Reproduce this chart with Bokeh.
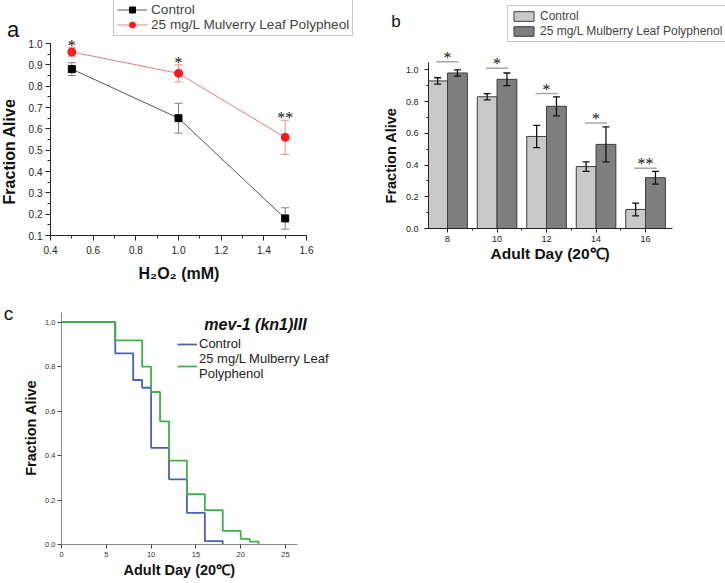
import numpy as np
from bokeh.plotting import figure
from bokeh.models import (ColumnDataSource, Whisker, TeeHead, Legend, LegendItem, Label, LabelSet,
                          SingleIntervalTicker, FixedTicker, PrintfTickFormatter, Range1d, Title)
from bokeh.layouts import column, row
from bokeh.embed import file_html
from bokeh.resources import INLINE

FONT = "Liberation Sans"

# ---------------- data: panel a ----------------
h2o2_mm = [0.5, 1.0, 1.5]
a_control = [0.88, 0.65, 0.18]
a_control_err = [0.03, 0.07, 0.05]
a_poly = [0.96, 0.86, 0.56]
a_poly_err = [0.02, 0.04, 0.08]
a_stars = ["*", "*", "**"]
a_series = ["Control", "25 mg/L Mulverry Leaf Polypheol"]

# ---------------- data: panel b ----------------
b_days = [8, 10, 12, 14, 16]
b_control = [0.93, 0.83, 0.58, 0.39, 0.12]
b_control_err = [0.02, 0.02, 0.07, 0.03, 0.04]
b_poly = [0.98, 0.94, 0.77, 0.53, 0.32]
b_poly_err = [0.02, 0.04, 0.06, 0.11, 0.04]
b_sig_y = [1.05, 1.01, 0.85, 0.665, 0.38]
b_stars = ["*", "*", "*", "*", "**"]
b_series = ["Control", "25 mg/L Mulberry Leaf Polyphenol"]

# ---------------- data: panel c ----------------
c_control_day = [0, 6, 8, 9, 10, 12, 14, 16, 18]
c_control_alive = [1.0, 0.86, 0.74, 0.705, 0.435, 0.293, 0.142, 0.015, 0.0]
c_poly_day = [0, 6, 9, 10, 11, 12, 14, 16, 18, 20, 21, 22]
c_poly_alive = [1.0, 0.918, 0.80, 0.686, 0.554, 0.377, 0.226, 0.154, 0.061, 0.025, 0.013, 0.0]
c_title = "mev-1 (kn1)III"
c_series = ["Control", "25 mg/L Mulberry Leaf\nPolyphenol"]

Y_LABEL = "Fraction Alive"
DAY_LABEL = "Adult Day (20\u2103)"
H2O2_LABEL = "H\u2082O\u2082 (mM)"


def style_axes(p, tick_size, axis_color="#222222", tick_color="#222222"):
    for ax in (p.xaxis[0], p.yaxis[0]):
        ax.axis_line_color = axis_color
        ax.major_tick_line_color = axis_color
        ax.minor_tick_line_color = axis_color
        ax.major_tick_in = 0
        ax.minor_tick_in = 0
        ax.major_label_text_font = FONT
        ax.major_label_text_font_size = tick_size
        ax.major_label_text_color = tick_color
    p.grid.visible = False
    p.outline_line_color = None
    p.background_fill_color = "white"
    p.border_fill_color = "white"


def x_title(p, text, size, offset, standoff, valign):
    """Bold x-axis title, placed under the tick labels and centred on the drawn axis."""
    p.add_layout(Title(text=text, align="left", offset=offset, standoff=standoff,
                       vertical_align=valign, text_font=FONT, text_font_size=size,
                       text_font_style="bold", text_color="#111111"), "below")


def side_figure(width, height, x0, x1, y_bottom, y_top, bottom_border):
    """A blank strip (no axes) that carries the panel letter and the y title."""
    s = figure(width=width, height=height, x_range=Range1d(x0, x1), y_range=Range1d(y_bottom, y_top),
               x_axis_type=None, y_axis_type=None, output_backend="svg", toolbar_location=None,
               min_border_left=0, min_border_right=0, min_border_top=0,
               min_border_bottom=bottom_border)
    s.outline_line_color = None
    s.grid.visible = False
    return s


def add_text(p, x, y, text, size, style="normal", angle=0.0):
    p.add_layout(Label(x=x, y=y, text=text, angle=angle, text_align="center",
                       text_baseline="middle", text_font=FONT, text_font_size=size,
                       text_font_style=style, text_color="#111111"))


# ================= panel a =================
la = side_figure(20, 300, 0, 20, 235, 0, 65)
add_text(la, 12.5, 29, "a", "22px")
add_text(la, 8.5, 151, Y_LABEL, "16px", "bold", np.pi / 2)

pa = figure(width=340, height=300, x_range=(0.4, 1.853), y_range=(0.1, 1.2016),
            output_backend="svg", toolbar_location=None,
            min_border_left=30, min_border_right=0, min_border_top=0, min_border_bottom=65)
style_axes(pa, "10px")
pa.xaxis.bounds = (0.4, 1.6)
pa.yaxis.bounds = (0.1, 1.0)
pa.xaxis.ticker = SingleIntervalTicker(interval=0.2, num_minor_ticks=2)
pa.yaxis.ticker = SingleIntervalTicker(interval=0.1, num_minor_ticks=2)
pa.xaxis.formatter = PrintfTickFormatter(format="%.1f")
pa.yaxis.formatter = PrintfTickFormatter(format="%.1f")
pa.xaxis.major_tick_out = 5
pa.xaxis.minor_tick_out = 3
pa.xaxis.major_label_standoff = 5
pa.yaxis.major_tick_out = 5
pa.yaxis.minor_tick_out = 3
pa.yaxis.major_label_standoff = 3
x_title(pa, H2O2_LABEL, "16px", 88, 15, "middle")

a_c = np.array(a_control); a_ce = np.array(a_control_err)
a_p = np.array(a_poly); a_pe = np.array(a_poly_err)
src_a = ColumnDataSource(dict(x=h2o2_mm, c=a_c, c_lo=a_c - a_ce, c_hi=a_c + a_ce,
                              p=a_p, p_lo=a_p - a_pe, p_hi=a_p + a_pe, star=a_stars))
for lo, hi, col in (("c_lo", "c_hi", "#808080"), ("p_lo", "p_hi", "#f08a8a")):
    pa.add_layout(Whisker(base="x", lower=lo, upper=hi, source=src_a, line_color=col, line_width=1,
                          upper_head=TeeHead(size=8, line_color=col, line_width=1),
                          lower_head=TeeHead(size=8, line_color=col, line_width=1)))
lc = pa.line("x", "c", source=src_a, line_color="#555555", line_width=1)
sc = pa.scatter("x", "c", source=src_a, marker="square", size=7, color="black")
lp = pa.line("x", "p", source=src_a, line_color="#f07a7a", line_width=1)
sp = pa.scatter("x", "p", source=src_a, marker="circle", size=8, color="#ff1a1a")
pa.add_layout(LabelSet(x="x", y="p_hi", text="star", source=src_a, text_align="center",
                       text_baseline="alphabetic", y_offset=-3, text_font=FONT,
                       text_font_size="16px", text_color="#111111"))
pa.add_layout(Legend(items=[LegendItem(label=a_series[0], renderers=[lc, sc]),
                            LegendItem(label=a_series[1], renderers=[lp, sp])],
                     location=(63, 199), margin=0, padding=3, spacing=0,
                     glyph_width=30, glyph_height=15, label_height=15, label_standoff=4,
                     label_text_font=FONT, label_text_font_size="13.6px",
                     border_line_color="#8c8c8c", border_line_width=1,
                     background_fill_color="white", background_fill_alpha=1.0))

# ================= panel b =================
lb = side_figure(42, 293, 360, 402, 228, 0, 65)
add_text(lb, 395.5, 21, "b", "17px")
add_text(lb, 390, 155, Y_LABEL, "14.5px", "bold", np.pi / 2)

pb = figure(width=323, height=293, x_range=(7.23, 19.23), y_range=(0, 1.4367),
            output_backend="svg", toolbar_location=None,
            min_border_left=26, min_border_right=0, min_border_top=0, min_border_bottom=65)
style_axes(pb, "9px")
pb.xaxis.bounds = (7.23, 17.09)
pb.yaxis.bounds = (0, 1.046)
pb.xaxis.ticker = FixedTicker(ticks=b_days, minor_ticks=[9, 11, 13, 15])
pb.yaxis.ticker = SingleIntervalTicker(interval=0.2, num_minor_ticks=2)
pb.yaxis.formatter = PrintfTickFormatter(format="%.1f")
pb.xaxis.major_tick_out = 4
pb.xaxis.minor_tick_out = 2
pb.xaxis.major_label_standoff = 3
pb.yaxis.major_tick_out = 4
pb.yaxis.minor_tick_out = 2
pb.yaxis.major_label_standoff = 6
x_title(pb, DAY_LABEL, "15.5px", 62, 0, "top")

bar_w = 0.8
b_d = np.array(b_days, dtype=float)
b_c = np.array(b_control); b_ce = np.array(b_control_err)
b_p = np.array(b_poly); b_pe = np.array(b_poly_err)
src_b = ColumnDataSource(dict(day=b_d, cx=b_d - bar_w / 2, px=b_d + bar_w / 2,
                              c=b_c, c_lo=b_c - b_ce, c_hi=b_c + b_ce,
                              p=b_p, p_lo=b_p - b_pe, p_hi=b_p + b_pe,
                              sig=b_sig_y, sig_l=b_d - 0.45, sig_r=b_d + 0.45, star=b_stars))
rc = pb.vbar(x="cx", top="c", width=bar_w, source=src_b, fill_color="#c9c9c9",
             line_color="#3c3c3c", line_width=1)
rp = pb.vbar(x="px", top="p", width=bar_w, source=src_b, fill_color="#7f7f7f",
             line_color="#3c3c3c", line_width=1)
for base, lo, hi in (("cx", "c_lo", "c_hi"), ("px", "p_lo", "p_hi")):
    pb.add_layout(Whisker(base=base, lower=lo, upper=hi, source=src_b, line_color="#111111",
                          line_width=1.3, level="overlay",
                          upper_head=TeeHead(size=7, line_color="#111111", line_width=1.3),
                          lower_head=TeeHead(size=7, line_color="#111111", line_width=1.3)))
pb.add_layout(Whisker(base="sig", lower="sig_l", upper="sig_r", dimension="width", source=src_b,
                      line_color="#a8a8a8", line_width=1.5, upper_head=None, lower_head=None))
pb.add_layout(LabelSet(x="day", y="sig", text="star", source=src_b, text_align="center",
                       text_baseline="alphabetic", y_offset=-1, text_font=FONT,
                       text_font_size="16px", text_color="#111111"))
pb.add_layout(Legend(items=[LegendItem(label=b_series[0], renderers=[rc]),
                            LegendItem(label=b_series[1], renderers=[rp])],
                     location=(79, 186), margin=0, padding=3, spacing=1,
                     glyph_width=25, glyph_height=12, label_height=12, label_standoff=4,
                     label_text_font=FONT, label_text_font_size="12px",
                     border_line_color="#8c8c8c", border_line_width=1,
                     background_fill_color="white", background_fill_alpha=1.0))

# ================= panel c =================
lc_strip = side_figure(40, 283, 0, 40, 544.3, 300, 39)
add_text(lc_strip, 8, 313, "c", "19px")
add_text(lc_strip, 30, 427.5, Y_LABEL, "14.5px", "bold", np.pi / 2)

pc = figure(width=320, height=283, x_range=(0, 33.37), y_range=(0, 1.0975),
            output_backend="svg", toolbar_location=None,
            min_border_left=21, min_border_right=0, min_border_top=0, min_border_bottom=39)
style_axes(pc, "7.5px", axis_color="#8a8a8a", tick_color="#333333")
pc.xaxis.bounds = (0, 26.3)
pc.yaxis.bounds = (0, 1.045)
pc.xaxis.ticker = SingleIntervalTicker(interval=5, num_minor_ticks=0)
pc.yaxis.ticker = SingleIntervalTicker(interval=0.2, num_minor_ticks=0)
pc.yaxis.formatter = PrintfTickFormatter(format="%.1f")
pc.xaxis.major_tick_line_color = "#444444"
pc.yaxis.major_tick_line_color = "#444444"
pc.xaxis.major_tick_out = 4
pc.xaxis.major_label_standoff = 3
pc.yaxis.major_tick_out = 4
pc.yaxis.major_label_standoff = 2
x_title(pc, DAY_LABEL, "14.5px", 62, 3, "middle")

s_ctrl = pc.step(c_control_day, c_control_alive, mode="after", line_color="#4a60b4", line_width=1.8)
s_poly = pc.step(c_poly_day, c_poly_alive, mode="after", line_color="#40b04a", line_width=1.8)
pc.add_layout(Label(x=21.65, y=0.99, text=c_title, text_align="center", text_baseline="middle",
                    text_font=FONT, text_font_size="16px", text_font_style="bold italic",
                    text_color="#111111"))
pc.add_layout(Legend(items=[LegendItem(label=c_series[0], renderers=[s_ctrl]),
                            LegendItem(label=c_series[1], renderers=[s_poly])],
                     location=(116, 163), margin=0, padding=0, spacing=0,
                     glyph_width=20, glyph_height=14, label_height=14, label_standoff=2,
                     label_text_font=FONT, label_text_font_size="13px", label_text_color="#222222",
                     border_line_color=None, background_fill_alpha=0.0))

layout = column(row(la, pa, lb, pb), row(lc_strip, pc))

open("out.html", "w").write(file_html(layout, INLINE))
